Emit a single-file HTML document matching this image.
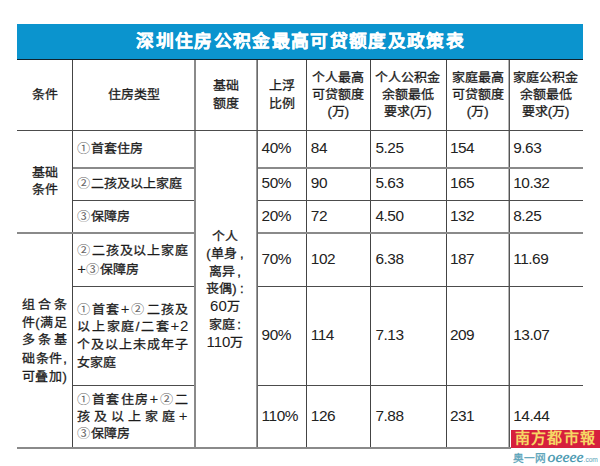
<!DOCTYPE html>
<html lang="zh-CN">
<head>
<meta charset="utf-8">
<title>深圳住房公积金最高可贷额度及政策表</title>
<style>
html,body{margin:0;padding:0;background:#fff;}
body{width:600px;height:466px;position:relative;overflow:hidden;font-family:"Liberation Sans",sans-serif;color:#1c1c1c;}
.abs,.t,.v,.h,.hh{position:absolute;}
.v{width:1px;background:#3a3a3a;}
.h{height:1px;background:#4c4c4c;}
.hh{height:2px;background:#8a8a8a;}
.t{white-space:nowrap;font-size:13px;line-height:18px;height:18px;-webkit-text-stroke:0.3px #1c1c1c;transform:scaleY(0.92);transform-origin:50% 50%;}
.c{text-align:center;}
.j{text-align:justify;text-align-last:justify;}
.n{font-size:15.4px;-webkit-text-stroke:0;color:#222;transform:none;letter-spacing:-0.45px;}
.k{-webkit-text-stroke:0;color:#666;font-weight:400;font-size:13.2px;line-height:1px;margin:0 0.8px 0 -0.4px;position:relative;top:0.2px;}
.p{margin-left:2.5px;}
.ls{letter-spacing:0.2px;}
.d{font-size:15px;line-height:1px;-webkit-text-stroke:0;}
.pl{margin-right:0.8px;}
.q{margin-right:0.8px;}
#bar{left:17px;top:24px;width:566px;height:36px;background:#0b94ce;border-bottom:1px solid #10222c;box-sizing:border-box;}
#title{left:17.6px;top:24.4px;width:566px;height:34px;line-height:34px;text-align:center;color:#fff;-webkit-text-stroke:0.3px #fff;font-size:17.8px;letter-spacing:1.33px;transform:scaleY(0.95);font-weight:700;white-space:nowrap;}
#wm{left:511px;top:430px;width:89px;height:17.6px;background:#d61f3d;color:#f6d765;font-family:"Liberation Serif",serif;font-weight:700;font-size:15px;line-height:17.5px;text-align:center;white-space:nowrap;letter-spacing:1.2px;overflow:hidden;}
#wm2{left:513px;top:449px;width:90px;height:16px;line-height:16px;font-size:10.7px;color:#5aa3b9;white-space:nowrap;font-weight:400;-webkit-text-stroke:0.3px #5aa3b9;}
#wm2 i{font-family:"Liberation Serif",serif;font-size:15.6px;font-weight:400;color:#3f95ae;-webkit-text-stroke:0.3px #3f95ae;margin-left:1.6px;letter-spacing:0.1px}
#wm2 small{font-size:6.6px;font-weight:400;-webkit-text-stroke:0;}
</style>
</head>
<body>

<div class="abs" id="bar"></div>
<div class="abs" id="title">深圳住房公积金最高可贷额度及政策表</div>
<div class="v" style="left:72px;top:60px;height:388px;width:1px;background:#444"></div>
<div class="v" style="left:194px;top:60px;height:388px;width:2px;background:#8a8a8a"></div>
<div class="v" style="left:256px;top:60px;height:388px;width:1px;background:#9a9a9a"></div>
<div class="v" style="left:257px;top:60px;height:388px;width:1px;background:#6a6a6a"></div>
<div class="v" style="left:306px;top:60px;height:388px;width:1px;background:#444"></div>
<div class="v" style="left:370px;top:60px;height:388px;width:1px;background:#444"></div>
<div class="v" style="left:446px;top:60px;height:388px;width:1px;background:#444"></div>
<div class="v" style="left:508px;top:60px;height:388px;width:1px;background:#b4b4b4"></div>
<div class="v" style="left:509px;top:60px;height:388px;width:1px;background:#555"></div>
<div class="h" style="left:17px;top:130px;width:565.5px"></div>
<div class="hh" style="left:73px;top:167px;width:121px"></div>
<div class="hh" style="left:258px;top:167px;width:324.5px"></div>
<div class="h" style="left:73px;top:200px;width:121px"></div>
<div class="h" style="left:258px;top:200px;width:324.5px"></div>
<div class="h" style="left:73px;top:286px;width:121px"></div>
<div class="h" style="left:258px;top:286px;width:324.5px"></div>
<div class="h" style="left:73px;top:385px;width:121px"></div>
<div class="h" style="left:258px;top:385px;width:324.5px"></div>
<div class="hh" style="left:17px;top:232px;width:177px"></div>
<div class="hh" style="left:258px;top:232px;width:324.5px"></div>
<div class="hh" style="left:17px;top:447px;width:494px"></div>
<div class="t c " style="left:-15.15px;width:120px;top:86.00px">条件</div>
<div class="t c ls" style="left:74.20px;width:120px;top:86.00px">住房类型</div>
<div class="t c " style="left:165.70px;width:120px;top:77.00px">基础</div>
<div class="t c " style="left:165.70px;width:120px;top:95.00px">额度</div>
<div class="t c " style="left:221.85px;width:120px;top:77.00px">上浮</div>
<div class="t c " style="left:221.85px;width:120px;top:95.00px">比例</div>
<div class="t c " style="left:278.30px;width:120px;top:69.00px">个人最高</div>
<div class="t c " style="left:278.30px;width:120px;top:86.00px">可贷额度</div>
<div class="t c " style="left:278.30px;width:120px;top:103.00px">(万)</div>
<div class="t c " style="left:417.70px;width:120px;top:69.00px">家庭最高</div>
<div class="t c " style="left:417.70px;width:120px;top:86.00px">可贷额度</div>
<div class="t c " style="left:417.70px;width:120px;top:103.00px">(万)</div>
<div class="t c " style="left:347.80px;width:120px;top:69.00px">个人公积金</div>
<div class="t c " style="left:347.80px;width:120px;top:86.00px">余额最低</div>
<div class="t c " style="left:347.80px;width:120px;top:103.00px">要求(万)</div>
<div class="t c " style="left:485.60px;width:120px;top:69.00px">家庭公积金</div>
<div class="t c " style="left:485.60px;width:120px;top:86.00px">余额最低</div>
<div class="t c " style="left:485.60px;width:120px;top:103.00px">要求(万)</div>
<div class="t c " style="left:-15.40px;width:120px;top:164.00px">基础</div>
<div class="t c " style="left:-15.40px;width:120px;top:181.00px">条件</div>
<div class="t j " style="left:21.8px;width:45px;top:296.00px">组合条</div>
<div class="t j " style="left:21.8px;width:45px;top:314.00px">件(满足</div>
<div class="t j " style="left:21.8px;width:45px;top:331.00px">多条基</div>
<div class="t j " style="left:21.8px;width:45px;top:350.00px">础条件,</div>
<div class="t j " style="left:21.8px;width:45px;top:368.00px">可叠加)</div>
<div class="t " style="left:77.3px;top:140.00px"><span class="k">①</span>首套住房</div>
<div class="t " style="left:77.3px;top:175.00px"><span class="k">②</span>二孩及以上家庭</div>
<div class="t " style="left:77.3px;top:208.00px"><span class="k">③</span>保障房</div>
<div class="t j " style="left:77.3px;width:111px;top:242.00px"><span class="k">②</span>二孩及以上家庭</div>
<div class="t " style="left:77.3px;top:261.00px"><span class="d pl">+</span><span class="k">③</span>保障房</div>
<div class="t j " style="left:77.3px;width:111px;top:301.00px"><span class="k">①</span>首套<span class="d pl">+</span><span class="k">②</span>二孩及</div>
<div class="t j " style="left:77.3px;width:111px;top:318.00px">以上家庭/二套<span class="d pl">+</span><span class="d">2</span></div>
<div class="t j " style="left:77.3px;width:111px;top:336.00px">个及以上未成年子</div>
<div class="t " style="left:77.3px;top:354.00px">女家庭</div>
<div class="t j " style="left:77.3px;width:111px;top:391.00px"><span class="k">①</span>首套住房<span class="d pl">+</span><span class="k">②</span>二</div>
<div class="t j " style="left:77.3px;width:111px;top:408.00px">孩及以上家庭<span class="d pl">+</span></div>
<div class="t " style="left:77.3px;top:425.00px"><span class="k">③</span>保障房</div>
<div class="t c " style="left:164.90px;width:120px;top:228.00px">个人</div>
<div class="t c " style="left:164.90px;width:120px;top:245.00px"><span class="q">(</span>单身<span class="p">,</span></div>
<div class="t c " style="left:164.90px;width:120px;top:263.00px">离异<span class="p">,</span></div>
<div class="t c " style="left:164.90px;width:120px;top:280.00px">丧偶<span class="q">)</span><span class="p">:</span></div>
<div class="t c " style="left:164.90px;width:120px;top:298.00px"><span class="d">60</span>万</div>
<div class="t c " style="left:164.90px;width:120px;top:316.00px">家庭<span class="p">:</span></div>
<div class="t c " style="left:164.90px;width:120px;top:334.00px"><span class="d">110</span>万</div>
<div class="t n" style="left:261.6px;top:139.00px">40%</div>
<div class="t n" style="left:310.8px;top:139.00px">84</div>
<div class="t n" style="left:375.4px;top:139.00px">5.25</div>
<div class="t n" style="left:449.9px;top:139.00px">154</div>
<div class="t n" style="left:513.2px;top:139.00px">9.63</div>
<div class="t n" style="left:261.6px;top:174.00px">50%</div>
<div class="t n" style="left:310.8px;top:174.00px">90</div>
<div class="t n" style="left:375.4px;top:174.00px">5.63</div>
<div class="t n" style="left:449.9px;top:174.00px">165</div>
<div class="t n" style="left:513.2px;top:174.00px">10.32</div>
<div class="t n" style="left:261.6px;top:207.00px">20%</div>
<div class="t n" style="left:310.8px;top:207.00px">72</div>
<div class="t n" style="left:375.4px;top:207.00px">4.50</div>
<div class="t n" style="left:449.9px;top:207.00px">132</div>
<div class="t n" style="left:513.2px;top:207.00px">8.25</div>
<div class="t n" style="left:261.6px;top:250.00px">70%</div>
<div class="t n" style="left:310.8px;top:250.00px">102</div>
<div class="t n" style="left:375.4px;top:250.00px">6.38</div>
<div class="t n" style="left:449.9px;top:250.00px">187</div>
<div class="t n" style="left:513.2px;top:250.00px">11.69</div>
<div class="t n" style="left:261.6px;top:326.00px">90%</div>
<div class="t n" style="left:310.8px;top:326.00px">114</div>
<div class="t n" style="left:375.4px;top:326.00px">7.13</div>
<div class="t n" style="left:449.9px;top:326.00px">209</div>
<div class="t n" style="left:513.2px;top:326.00px">13.07</div>
<div class="t n" style="left:261.6px;top:407.00px">110%</div>
<div class="t n" style="left:310.8px;top:407.00px">126</div>
<div class="t n" style="left:375.4px;top:407.00px">7.88</div>
<div class="t n" style="left:449.9px;top:407.00px">231</div>
<div class="t n" style="left:513.2px;top:407.00px">14.44</div>
<div class="abs" id="wm">南方都市報</div>
<div class="abs" id="wm2">奥一网<i>oeeee</i><small>.com</small></div>
</body>
</html>
